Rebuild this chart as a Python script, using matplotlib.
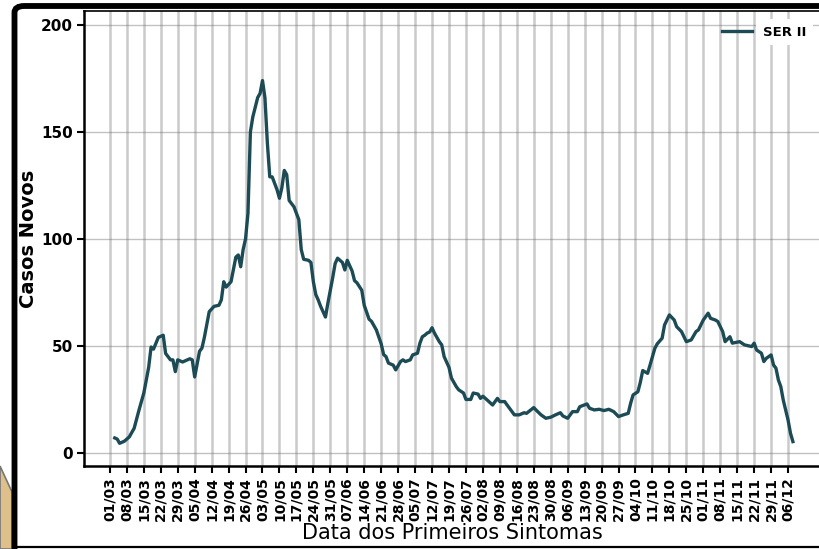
import matplotlib
matplotlib.use("Agg")
import matplotlib.pyplot as plt
import matplotlib.dates as mdates
from matplotlib.patches import Polygon, FancyBboxPatch
from matplotlib.lines import Line2D
import pandas as pd

# dias contados a partir de 01/03 e casos novos (media movel)
dias = [2, 3, 4, 6, 8, 10, 12, 14, 16, 17, 18, 20, 22, 23, 25, 26, 27, 28, 30, 32,
        33, 34, 35, 37, 38, 39, 41, 43, 45, 46, 47, 48, 50, 52, 53, 54, 55, 56, 57, 58,
        59, 61, 62, 63, 64, 65, 66, 67, 69, 70, 71, 72, 73, 74, 75, 76, 77, 78, 79, 80,
        82, 83, 84, 85, 86, 87, 89, 90, 92, 93, 94, 96, 97, 98, 100, 101, 102, 104, 105, 107,
        108, 110, 112, 113, 114, 115, 117, 118, 120, 121, 122, 124, 125, 127, 128, 129, 130, 131, 132, 133,
        134, 136, 137, 138, 140, 141, 143, 144, 146, 147, 149, 150, 152, 153, 154, 156, 158, 160, 161, 163,
        164, 167, 169, 171, 172, 175, 176, 178, 180, 182, 184, 186, 187, 189, 191, 193, 194, 197, 198, 200,
        202, 204, 206, 208, 210, 212, 214, 215, 216, 218, 219, 220, 222, 223, 224, 225, 226, 228, 229, 231,
        233, 234, 236, 238, 240, 242, 243, 245, 247, 248, 250, 251, 253, 254, 256, 257, 260, 262, 264, 265,
        266, 267, 269, 270, 271, 273, 274, 275, 276, 277, 278, 280, 281, 282]
casos = [7, 6.5, 4.5, 5.5, 7.5, 11.5, 20, 28, 40, 49.5, 48.5, 54, 55, 46.5, 43.5, 43.5, 38, 43.5, 42.5, 43.5,
         44, 43.5, 35.5, 47.5, 49, 54, 66, 68.5, 69, 71.5, 80, 77.5, 80, 91.5, 92.5, 87, 95, 100, 112, 150,
         157, 166, 168, 174, 166, 145, 129, 129, 123, 119, 124, 132, 130, 118, 116.5, 115, 112, 109, 95, 90.5,
         90, 89, 80, 74, 71.5, 68.5, 63.5, 70, 82, 88.5, 91, 89, 85.5, 90, 85, 80.5, 79.5, 76, 69, 62.5,
         61.5, 57.5, 51, 46, 45, 42, 41, 38.8, 42.7, 43.5, 42.7, 43.5, 45.8, 46.6, 51.3, 54.3, 55, 56, 56.5, 58.5,
         56, 52, 50.5, 45, 40, 35, 31, 29.5, 28, 25, 25, 28, 27.5, 25.5, 26.5, 24.5, 22.4, 25.5, 24, 24,
         22.4, 17.8, 17.8, 18.8, 18.5, 21.2, 20, 17.8, 16.2, 16.7, 17.8, 18.8, 17.3, 16.2, 19.3, 19.3, 21.6, 22.9, 20.9, 20.1,
         20.4, 19.8, 20.4, 19.3, 17, 17.8, 18.5, 23.2, 27.1, 28.6, 33, 38.5, 37.2, 41, 45, 48.9, 51, 53.6, 59.8, 64.5,
         62.1, 59, 56.7, 52, 52.8, 56.7, 57.5, 62.1, 65.3, 62.9, 62.1, 61.4, 56.7, 52, 54.3, 51.3, 52, 50.5, 50, 49.7,
         51.3, 48.1, 46.6, 42.7, 44.2, 45.8, 41.1, 39.6, 34.1, 31, 24.8, 15.4, 9.2, 5.3]

inicio = pd.Timestamp("2020-03-01")
datas = inicio + pd.to_timedelta(dias, unit="D")
semanas = pd.date_range("2020-03-01", "2020-12-06", freq="7D")
yticks = [0, 50, 100, 150, 200]

W, H = 819, 549
fig = plt.figure(figsize=(W / 100, H / 100), dpi=100, facecolor="white")

def px(x, y):
    return (x / W, 1 - y / H)

# moldura e recorte no canto
fig.add_artist(Polygon([px(0, 466), px(12, 492), px(12, 549), px(0, 549)], closed=True,
                       transform=fig.transFigure, facecolor="#dfc08a", edgecolor="#777777", lw=1.2))
x0, y0 = px(14.5, 560)
x1, y1 = px(840, 6)
fig.add_artist(FancyBboxPatch((x0, y0), x1 - x0, y1 - y0, boxstyle="round,pad=0,rounding_size=0.012",
                              transform=fig.transFigure, facecolor="none", edgecolor="black", lw=4.2))
fig.add_artist(Line2D([17 / W, 1], [1 - 546.5 / H] * 2, transform=fig.transFigure, color="black", lw=1.6))

ax = fig.add_axes([84 / W, 1 - 466 / H, (821 - 84) / W, (466 - 11) / H])
ax.set_facecolor("white")

ax.plot(datas, casos, color="#1d4b55", lw=2.4, label="SER II", zorder=3)

ax.set_xlim(inicio - pd.Timedelta(days=10.7), inicio + pd.Timedelta(days=293.6))
ax.set_ylim(-6.1, 206.5)
ax.set_yticks(yticks)
ax.set_xticks(semanas)
ax.xaxis.set_major_formatter(mdates.DateFormatter("%d/%m"))

ax.grid(axis="x", color="#a0a0a0", lw=1.8, alpha=0.55, zorder=0)
ax.grid(axis="y", color="#666666", lw=1.0, alpha=0.4, zorder=0)

for lbl in ax.get_xticklabels():
    lbl.set_rotation(90)
    lbl.set_fontweight("bold")
    lbl.set_fontsize(10)
for lbl in ax.get_yticklabels():
    lbl.set_fontweight("bold")
    lbl.set_fontsize(11)
ax.tick_params(direction="out", length=5, width=1.5, color="black", pad=3)

ax.spines["left"].set_linewidth(1.8)
ax.spines["bottom"].set_linewidth(1.8)
ax.spines["top"].set_linewidth(1.2)

ax.set_xlabel("Data dos Primeiros Sintomas", fontsize=15, labelpad=1)
ax.set_ylabel("Casos Novos", fontsize=14, fontweight="bold", labelpad=2)

leg = ax.legend(loc="center left", bbox_to_anchor=((722 - 84) / 737, 1 - (32 - 11) / 455),
                frameon=False, borderpad=0, borderaxespad=0, handlelength=2.3, handletextpad=0.8,
                prop={"weight": "bold", "size": 9.5})
for t in leg.get_texts():
    t.set_bbox(dict(facecolor="white", edgecolor="none", pad=5))

fig.savefig("out.png", dpi=100)
